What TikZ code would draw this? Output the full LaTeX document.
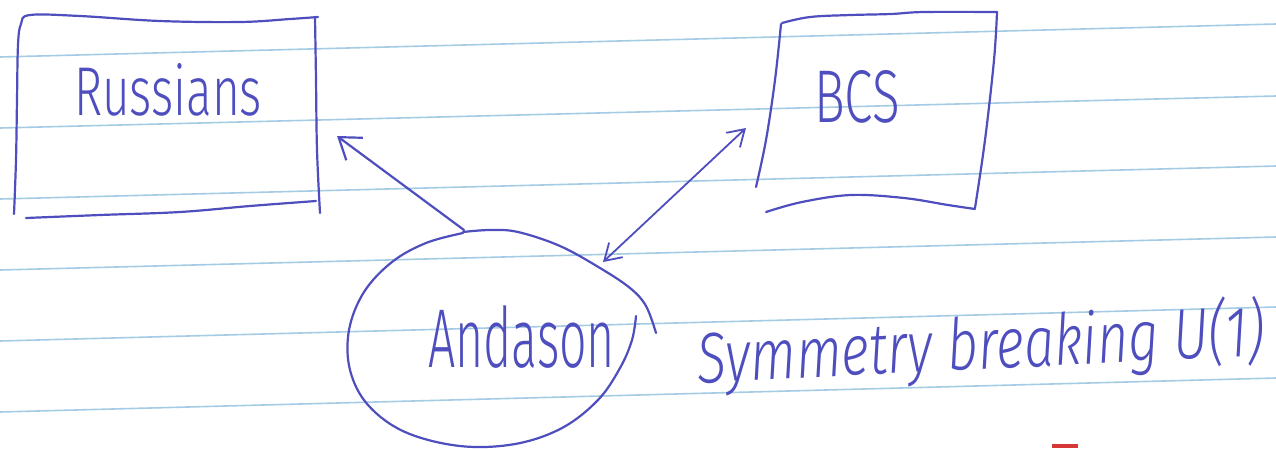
\documentclass[tikz,border=0pt]{standalone}
\usepackage{fontspec}
\usetikzlibrary{arrows.meta}
\IfFontExistsTF{Fira Sans Light}{\newfontfamily\hand{Fira Sans Light}}{\newfontfamily\hand{Fira Sans}}
\IfFontExistsTF{Fira Sans Light Italic}{\newfontfamily\handit{Fira Sans Light Italic}}{\newfontfamily\handit{Fira Sans Italic}}
\definecolor{ink}{RGB}{78,78,190}
\definecolor{ruled}{RGB}{165,204,228}
\definecolor{redmark}{RGB}{215,55,55}
\begin{document}
\begin{tikzpicture}[x=1pt,y=-1pt,
  inkline/.style={draw=ink, line width=2.2pt, line cap=round, line join=round},
  paperline/.style={draw=ruled, line width=1.6pt},
  lbl/.style={inner sep=0pt, outer sep=0pt, text=ink, anchor=base west},
  bigbarb/.style={-{Straight Barb[length=20pt,width=28pt,line width=2.2pt]}},
  dblbarb/.style={{Straight Barb[length=16pt,width=20pt,line width=1.8pt]}-{Straight Barb[length=16pt,width=20pt,line width=1.8pt]}}
]
\useasboundingbox (0,0) rectangle (1276,448);
\fill[white] (0,0) rectangle (1276,448);
% ruled paper
\foreach \a/\b in {57/24,128/96,199/166,270/237,341/307,412/378}
  \draw[paperline] (0,\a) -- (1276,\b);

% Russians box
\draw[inkline] plot[smooth,tension=0.6] coordinates {(14,214) (16,160) (17,100) (18,45) (21,24) (30,15) (80,16) (160,21) (240,22) (290,19) (318,17)};
\draw[inkline] plot[smooth,tension=0.6] coordinates {(315,17) (316,80) (317,150) (320,213)};
\draw[inkline] plot[smooth,tension=0.6] coordinates {(26,218) (100,215) (180,212) (250,206) (316,201)};
\node[lbl] (rus) at (74,115) {\resizebox{188pt}{52pt}{\hand Russians}};

% BCS box
\draw[inkline] plot[smooth,tension=0.6] coordinates {(782,23) (810,17) (851,15) (891,14) (924,12) (997,12)};
\draw[inkline] plot[smooth,tension=0.6] coordinates {(781,24) (775,80) (766,140) (756,187)};
\draw[inkline] plot[smooth,tension=0.6] coordinates {(997,12) (994,60) (985,140) (975,208)};
\draw[inkline] plot[smooth,tension=0.6] coordinates {(766,212) (802,202) (851,195) (904,198) (948,205) (975,209)};
\node[lbl] (bcs) at (814,122) {\resizebox{86pt}{52pt}{\hand BCS}};

% Anderson circle
\draw[inkline] plot[smooth,tension=0.6] coordinates {(463,233) (426,243) (392,262) (364,292) (349,330) (350,370) (368,405) (405,432) (460,446) (515,444) (562,428) (598,400) (620,368) (632,340) (636,316)};
\draw[inkline] plot[smooth,tension=0.6] coordinates {(463,232) (490,230) (518,232) (560,246) (600,268) (630,288) (646,306) (656,333)};
\node[lbl] (and) at (428,367) {\resizebox{187pt}{62pt}{\hand Andason}};

% connectors
\coordinate (andTop) at (464,230);
\coordinate (rusTip) at (337,136);
\coordinate (andR) at (603,262);
\coordinate (bcsTip) at (746,128);
\draw[inkline, bigbarb] (andTop) -- (rusTip);
\draw[inkline, line width=1.8pt, dblbarb] (andR) -- (bcsTip);

% side note
\node[lbl, rotate=2.8] (sym) at (698,383) {\resizebox{568pt}{60pt}{\handit Symmetry breaking U(1)}};

% red mark at the bottom edge
\fill[redmark] (1052,444) rectangle (1078,448);
\end{tikzpicture}
\end{document}
